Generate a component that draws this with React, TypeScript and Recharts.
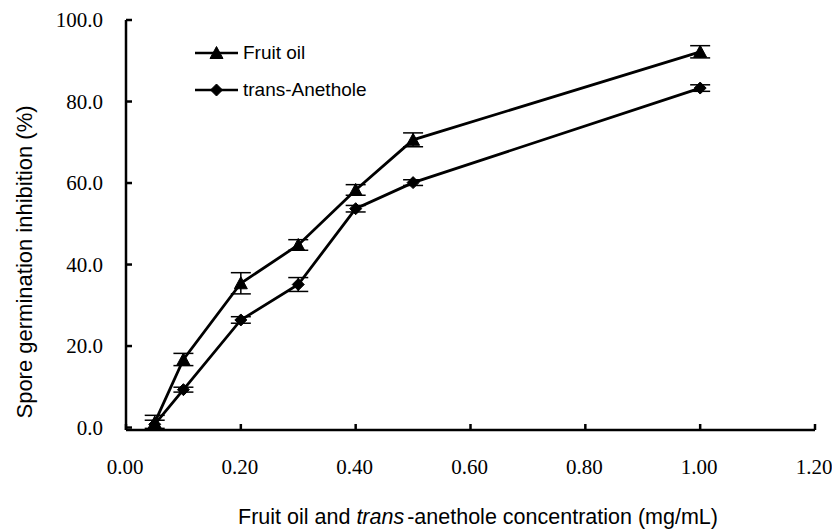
import React from 'react';
import { LineChart, Line, XAxis, YAxis, ErrorBar, Legend } from 'recharts';

const concentrations = [0.05, 0.1, 0.2, 0.3, 0.4, 0.5, 1.0];
const fruitOil = [1.2, 16.7, 35.4, 44.8, 58.3, 70.6, 92.2];
const fruitOilErr = [1.8, 1.5, 2.6, 1.3, 1.3, 1.7, 1.5];
const anethole = [0.8, 9.3, 26.4, 35.1, 53.7, 60.1, 83.3];
const anetholeErr = [1.0, 0.6, 0.8, 1.7, 0.8, 0.7, 0.8];
const xTicks = [0, 0.2, 0.4, 0.6, 0.8, 1.0, 1.2];
const yTicks = [0, 20, 40, 60, 80, 100];
const seriesNames = ['Fruit oil', 'trans-Anethole'];

const fruitData = concentrations.map((x, i) => ({ x, y: fruitOil[i], err: fruitOilErr[i] }));
const anetholeData = concentrations.map((x, i) => ({ x, y: anethole[i], err: anetholeErr[i] }));

const SERIF = '"Liberation Serif", "Times New Roman", serif';
const SANS = '"Liberation Sans", Arial, sans-serif';

const triPath = (cx: number, cy: number) =>
  `M${cx},${cy - 6.5} L${cx + 6.5},${cy + 5.5} L${cx - 6.5},${cy + 5.5} Z`;
const diaPath = (cx: number, cy: number) =>
  `M${cx},${cy - 6} L${cx + 6},${cy} L${cx},${cy + 6} L${cx - 6},${cy} Z`;

const TriangleDot = (props: any) => {
  const { cx, cy, index } = props;
  if (cx == null || cy == null) return null;
  return <path key={`t${index}`} d={triPath(cx, cy)} fill="#000" stroke="#000" strokeWidth={1} />;
};

const DiamondDot = (props: any) => {
  const { cx, cy, index } = props;
  if (cx == null || cy == null) return null;
  return <path key={`d${index}`} d={diaPath(cx, cy)} fill="#000" stroke="#000" strokeWidth={1} />;
};

const YTick = (props: any) => {
  const { x, y, payload } = props;
  return (
    <text x={x} y={y} dy="0.35em" textAnchor="end" fontFamily={SERIF} fontSize={21} fill="#000">
      {Number(payload.value).toFixed(1)}
    </text>
  );
};

const XTick = (props: any) => {
  const { x, y, payload } = props;
  return (
    <text x={x - 1} y={y} dy="0.35em" textAnchor="middle" fontFamily={SERIF} fontSize={21} fill="#000">
      {Number(payload.value).toFixed(2)}
    </text>
  );
};

const LegendContent = () => (
  <div style={{ fontFamily: SANS, fontSize: 19, color: '#000' }}>
    {seriesNames.map((name, i) => (
      <div key={name} style={{ display: 'flex', alignItems: 'center', height: 37 }}>
        <svg width={48} height={20} style={{ display: 'block' }}>
          <line x1={0} y1={10} x2={43} y2={10} stroke="#000" strokeWidth={2.5} />
          <path d={i === 0 ? triPath(21.5, 10) : diaPath(21.5, 10)} fill="#000" stroke="#000" strokeWidth={1} />
        </svg>
        <span style={{ lineHeight: '20px' }}>{name}</span>
      </div>
    ))}
  </div>
);

export default function App() {
  return (
    <div style={{ position: 'absolute', left: 0, top: 0, width: 832, height: 529, background: '#fff' }}>
      <LineChart width={832} height={529} margin={{ top: 20, right: 17, left: 0, bottom: 0 }}>
        <XAxis
          dataKey="x"
          type="number"
          domain={[0, 1.2]}
          ticks={xTicks}
          height={99}
          tickSize={-6}
          tickMargin={42.5}
          tick={<XTick />}
          axisLine={{ stroke: '#000', strokeWidth: 2.5 }}
          tickLine={{ stroke: '#000', strokeWidth: 2.5 }}
          allowDataOverflow
          label={{
            content: () => (
              <text x={478} y={524} textAnchor="middle" fontFamily={SANS} fontSize={21.5} fill="#000">
                Fruit oil and <tspan fontStyle="italic">trans</tspan>
                <tspan dx={3}>-anethole concentration (mg/mL)</tspan>
              </text>
            ),
          }}
        />
        <YAxis
          type="number"
          domain={[0, 100]}
          ticks={yTicks}
          width={126}
          tickSize={-6}
          tickMargin={29}
          tick={<YTick />}
          axisLine={{ stroke: '#000', strokeWidth: 2.5 }}
          tickLine={{ stroke: '#000', strokeWidth: 2.5 }}
          label={{
            content: () => (
              <text
                transform="translate(32,262) rotate(-90)"
                textAnchor="middle"
                fontFamily={SANS}
                fontSize={22}
                fill="#000"
              >
                Spore germination inhibition (%)
              </text>
            ),
          }}
        />
        <Legend
          layout="vertical"
          verticalAlign="middle"
          align="center"
          wrapperStyle={{ left: 195, top: 34, width: 260, height: 80 }}
          content={<LegendContent />}
        />
        <Line
          data={fruitData}
          dataKey="y"
          name={seriesNames[0]}
          stroke="#000"
          strokeWidth={2.8}
          dot={<TriangleDot />}
          activeDot={false}
          isAnimationActive={false}
        >
          <ErrorBar dataKey="err" direction="y" width={10} stroke="#000" strokeWidth={1.5} isAnimationActive={false} />
        </Line>
        <Line
          data={anetholeData}
          dataKey="y"
          name={seriesNames[1]}
          stroke="#000"
          strokeWidth={2.8}
          dot={<DiamondDot />}
          activeDot={false}
          isAnimationActive={false}
        >
          <ErrorBar dataKey="err" direction="y" width={10} stroke="#000" strokeWidth={1.5} isAnimationActive={false} />
        </Line>
      </LineChart>
    </div>
  );
}
